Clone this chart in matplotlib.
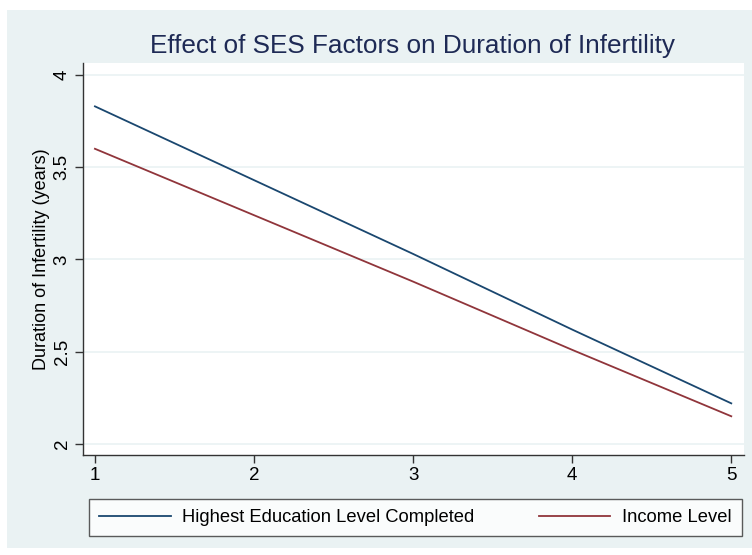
import matplotlib
matplotlib.use("Agg")
import matplotlib.pyplot as plt
from matplotlib.patches import Rectangle

# values (linear predictions at each level)
levels = [1, 2, 3, 4, 5]
education = [3.83, 3.43, 3.03, 2.62, 2.22]
income = [3.60, 3.24, 2.88, 2.51, 2.15]
y_ticks = [2, 2.5, 3, 3.5, 4]
y_tick_labels = ["2", "2.5", "3", "3.5", "4"]

BG = "#eaf2f3"
BLUE = "#1a476f"
RED = "#90353b"

plt.rcParams["font.family"] = ["Liberation Sans", "DejaVu Sans"]

fig = plt.figure(figsize=(7.52, 5.55), dpi=100, facecolor="white")
fig.patches.append(Rectangle((7 / 752, 7 / 555), 1 - 7 / 752, 1 - 17 / 555,
                             transform=fig.transFigure, facecolor=BG,
                             edgecolor="none", zorder=-10))

ax = fig.add_axes([83 / 752, 1 - 455 / 555, 661 / 752, 392 / 555])
ax.set_facecolor("white")
ax.plot(levels, education, color=BLUE, lw=1.3, label="Highest Education Level Completed")
ax.plot(levels, income, color=RED, lw=1.3, label="Income Level")

ax.set_xlim(0.925, 5.08)
ax.set_ylim(1.94, 4.065)
ax.set_xticks(levels)
ax.set_yticks(y_ticks)
ax.set_yticklabels(y_tick_labels, rotation=90, va="center")
ax.grid(axis="y", color=BG, lw=1.2)
ax.set_axisbelow(True)
for s in ("top", "right"):
    ax.spines[s].set_visible(False)
for s in ("left", "bottom"):
    ax.spines[s].set_color("#333333")
    ax.spines[s].set_linewidth(1.0)
ax.tick_params(direction="out", length=5.8, width=1, color="#333333",
               labelsize=13.5, pad=3)
ax.set_ylabel("Duration of Infertility (years)", fontsize=13, labelpad=3)

fig.text(0.549, 1 - 46 / 555, "Effect of SES Factors on Duration of Infertility",
         ha="center", va="center", fontsize=18.8, color="#1e2a55")

leg = ax.legend(loc="lower left", bbox_to_anchor=(89 / 752, 1 - 536 / 555, 653 / 752, 37 / 555),
                bbox_transform=fig.transFigure, mode="expand", ncol=2,
                fontsize=13.2, handlelength=3.9, handletextpad=0.65,
                borderpad=0.55, frameon=True, fancybox=False, borderaxespad=0)
leg.get_frame().set_edgecolor("#333333")
leg.get_frame().set_linewidth(1.0)

fig.savefig("out.png", dpi=100, facecolor=fig.get_facecolor())
